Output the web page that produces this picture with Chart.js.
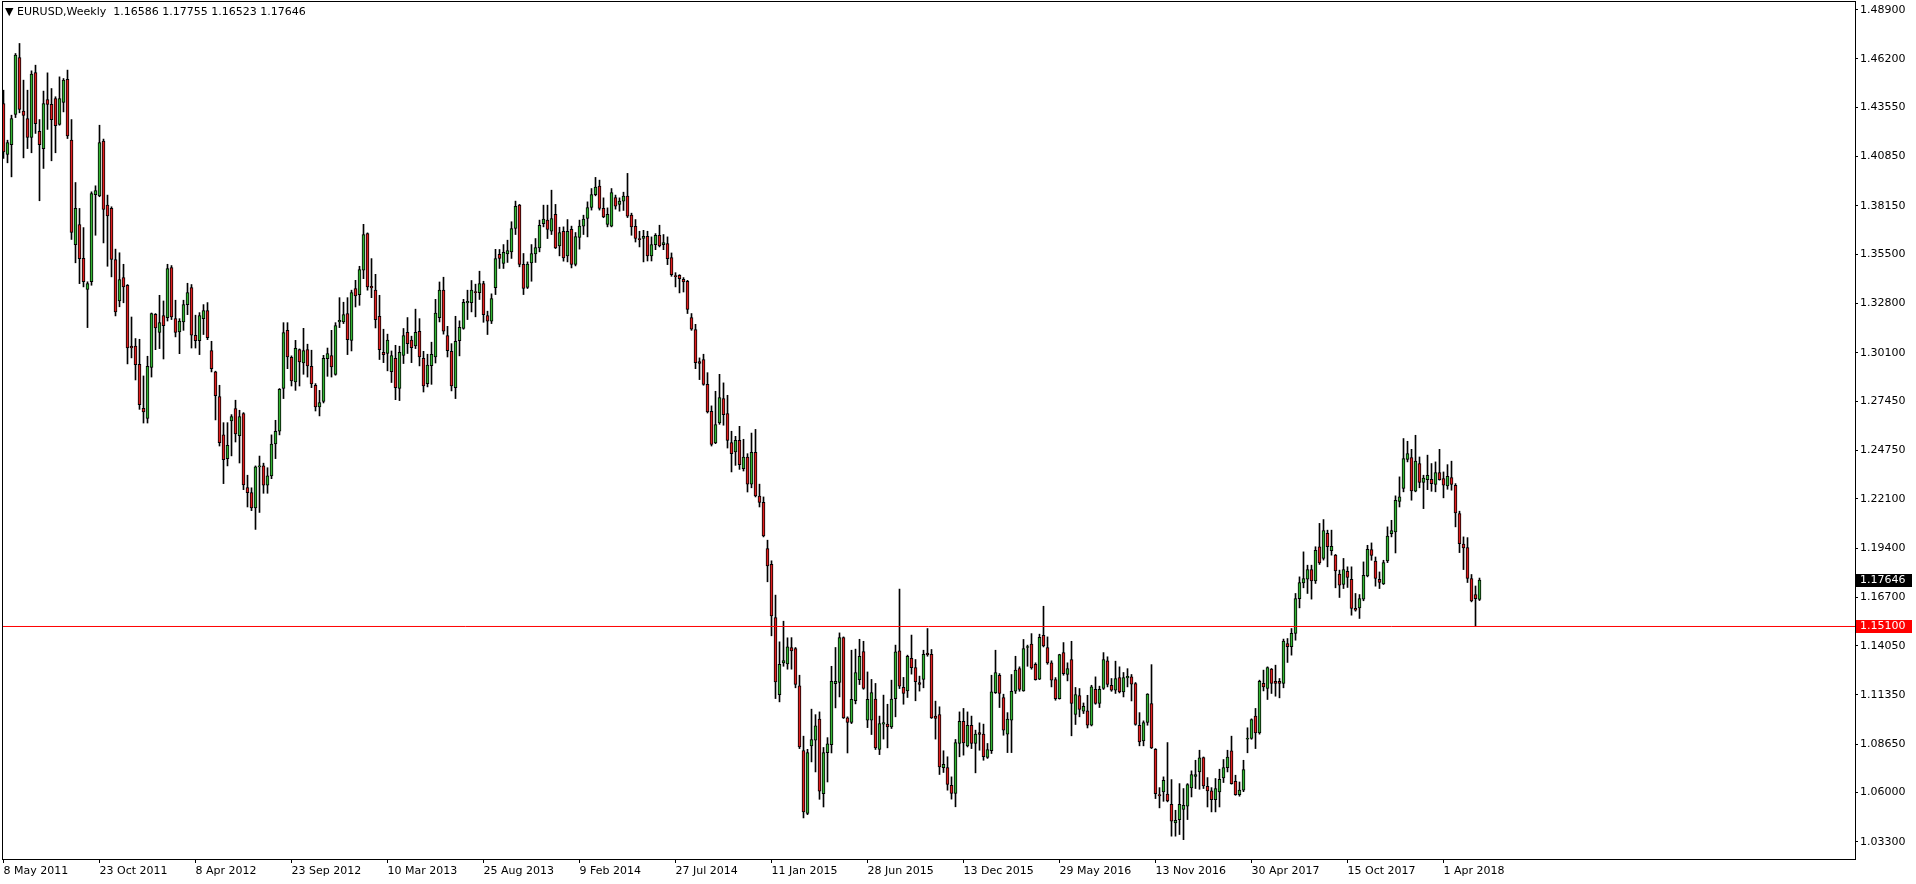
<!DOCTYPE html>
<html>
<head>
<meta charset="utf-8">
<title>EURUSD,Weekly</title>
<script src="https://cdn.jsdelivr.net/npm/chart.js@4.4.1/dist/chart.umd.min.js"></script>
<style>
  html, body { margin: 0; padding: 0; background: #fff; overflow: hidden; }
  #wrap { position: relative; width: 1916px; height: 884px; }
  #title {
    position: absolute; left: 5px; top: 5px;
    font: 11px "DejaVu Sans", Verdana, sans-serif; color: #000; white-space: pre;
  }
</style>
</head>
<body>
<div id="wrap">
  <canvas id="chart" width="1916" height="884"></canvas>
  <div id="title">▼ EURUSD,Weekly  1.16586 1.17755 1.16523 1.17646</div>
</div>
<script>
"use strict";

// Weekly bars, first bar = week of 8 May 2011, one bar per week.
const OPEN = [
  1.4376,1.4097,1.4151,1.4316,1.4628,1.4334,1.4294,1.4190,1.4546,1.4224,
  1.4129,1.4398,1.4372,1.4403,1.4261,1.4382,1.4508,1.4175,1.3603,1.3713,
  1.3527,1.3357,1.3399,1.3877,1.3870,1.4170,1.3819,1.3801,1.3521,1.3294,
  1.3422,1.3380,1.3046,1.3046,1.2947,1.2706,1.2650,1.2930,1.3221,1.3121,
  1.3214,1.3203,1.3477,1.3197,1.3124,1.3179,1.3274,1.3367,1.3106,1.3077,
  1.3197,1.3241,1.3022,1.2905,1.2770,1.2561,1.2430,1.2636,1.2704,1.2556,
  1.2677,1.2271,1.2244,1.2160,1.2385,1.2390,1.2285,1.2335,1.2510,1.2580,
  1.2814,1.3133,1.2985,1.2850,1.3027,1.2954,1.3027,1.2936,1.2832,1.2713,
  1.2744,1.2978,1.2994,1.2892,1.3179,1.3179,1.3225,1.3078,1.3362,1.3329,
  1.3462,1.3663,1.3374,1.3353,1.3210,1.3013,1.3006,1.2907,1.2980,1.2814,
  1.2995,1.3122,1.3079,1.3048,1.3128,1.2980,1.2841,1.2940,1.2987,1.3203,
  1.3353,1.3104,1.3018,1.2819,1.3077,1.3143,1.3283,1.3285,1.3342,1.3340,
  1.3389,1.3214,1.3183,1.3367,1.3549,1.3499,1.3552,1.3563,1.3691,1.3819,
  1.3494,1.3368,1.3503,1.3552,1.3585,1.3718,1.3737,1.3676,1.3768,1.3596,
  1.3676,1.3541,1.3686,1.3494,1.3642,1.3704,1.3746,1.3806,1.3877,1.3923,
  1.3801,1.3713,1.3704,1.3861,1.3823,1.3841,1.3868,1.3764,1.3703,1.3636,
  1.3636,1.3648,1.3541,1.3603,1.3654,1.3603,1.3608,1.3532,1.3433,1.3435,
  1.3413,1.3402,1.3203,1.3137,1.2962,1.2973,1.2837,1.2689,1.2516,1.2625,
  1.2759,1.2677,1.2518,1.2466,1.2530,1.2375,1.2439,1.2290,1.2465,1.2225,
  1.2190,1.1937,1.1850,1.1559,1.1137,1.1311,1.1305,1.1395,1.1389,1.1185,
  1.0830,1.0485,1.0856,1.0887,1.1002,1.0594,1.0819,1.0863,1.1197,1.1203,
  1.1449,1.1009,1.0984,1.1104,1.1219,1.1373,1.0996,1.0997,1.1112,1.0836,
  1.0975,1.0975,1.0960,1.1115,1.1377,1.1176,1.1157,1.1335,1.1285,1.1203,
  1.1220,1.1364,1.1358,1.1019,1.1028,1.0737,1.0737,1.0640,1.0595,1.0869,
  1.0991,1.0856,1.0969,1.0869,1.0929,1.0920,1.0792,1.0829,1.1148,1.1243,
  1.1121,1.0920,1.0996,1.1155,1.1280,1.1157,1.1395,1.1413,1.1302,1.1221,
  1.1462,1.1395,1.1311,1.1219,1.1115,1.1367,1.1247,1.1329,1.1028,1.1132,
  1.1046,1.1048,1.0969,1.1165,1.1088,1.1170,1.1322,1.1188,1.1161,1.1230,
  1.1152,1.1228,1.1234,1.1197,1.0969,1.0883,1.0984,1.1088,1.0837,1.0589,
  1.0603,1.0591,1.0536,1.0434,1.0452,1.0508,1.0525,1.0625,1.0689,1.0713,
  1.0792,1.0634,1.0609,1.0561,1.0603,1.0680,1.0737,1.0828,1.0662,1.0589,
  1.0613,1.0892,1.0896,1.1019,1.0927,1.1198,1.1170,1.1276,1.1210,1.1210,
  1.1198,1.1417,1.1399,1.1472,1.1663,1.1749,1.1769,1.1822,1.1760,1.1947,
  1.1883,1.2020,1.1925,1.1901,1.1797,1.1740,1.1813,1.1769,1.1609,1.1612,
  1.1660,1.1787,1.1932,1.1868,1.1769,1.1743,1.1869,1.2019,1.2028,1.2196,
  1.2266,1.2425,1.2436,1.2251,1.2403,1.2299,1.2315,1.2317,1.2288,1.2354,
  1.2321,1.2280,1.2326,1.2284,1.2129,1.1961,1.1942,1.1773,1.1685,1.16586
];
const HIGH = [
  1.4449,1.4175,1.4312,1.4650,1.4705,1.4504,1.4449,1.4555,1.4586,1.4288,
  1.4444,1.4544,1.4458,1.4413,1.4522,1.4513,1.4559,1.4288,1.3943,1.3801,
  1.3696,1.3399,1.3892,1.3925,1.4257,1.4181,1.3874,1.3810,1.3578,1.3558,
  1.3495,1.3384,1.3206,1.3088,1.3084,1.2883,1.2991,1.3228,1.3225,1.3325,
  1.3294,1.3495,1.3488,1.3298,1.3197,1.3298,1.3391,1.3384,1.3216,1.3230,
  1.3274,1.3285,1.3073,1.2909,1.2832,1.2627,1.2627,1.2671,1.2750,1.2695,
  1.2682,1.2339,1.2270,1.2390,1.2444,1.2405,1.2380,1.2560,1.2640,1.2814,
  1.3175,1.3175,1.2993,1.3078,1.3031,1.3144,1.3057,1.3024,1.2841,1.2804,
  1.2996,1.3036,1.3133,1.3175,1.3312,1.3287,1.3312,1.3353,1.3407,1.3484,
  1.3714,1.3667,1.3526,1.3440,1.3325,1.3139,1.3112,1.3020,1.3051,1.3046,
  1.3143,1.3203,1.3101,1.3249,1.3197,1.3018,1.3002,1.3068,1.3303,1.3398,
  1.3424,1.3155,1.3060,1.3210,1.3185,1.3303,1.3353,1.3406,1.3386,1.3457,
  1.3402,1.3238,1.3333,1.3577,1.3576,1.3603,1.3627,1.3728,1.3841,1.3823,
  1.3554,1.3508,1.3603,1.3636,1.3737,1.3819,1.3819,1.3901,1.3823,1.3698,
  1.3700,1.3740,1.3704,1.3669,1.3737,1.3764,1.3837,1.3910,1.3971,1.3956,
  1.3859,1.3804,1.3910,1.3874,1.3859,1.3890,1.3993,1.3775,1.3740,1.3676,
  1.3681,1.3676,1.3645,1.3663,1.3709,1.3658,1.3645,1.3557,1.3449,1.3438,
  1.3422,1.3407,1.3225,1.3166,1.2982,1.3002,1.2901,1.2719,1.2799,1.2892,
  1.2845,1.2777,1.2580,1.2552,1.2607,1.2536,1.2457,1.2570,1.2590,1.2290,
  1.2220,1.1983,1.1870,1.1682,1.1426,1.1539,1.1448,1.1449,1.1395,1.1243,
  1.0909,1.0837,1.1057,1.1027,1.1042,1.0847,1.0901,1.1292,1.1395,1.1475,
  1.1453,1.1015,1.1380,1.1386,1.1440,1.1429,1.1261,1.1220,1.1198,1.1019,
  1.1134,1.1084,1.1216,1.1408,1.1715,1.1231,1.1353,1.1463,1.1329,1.1238,
  1.1380,1.1499,1.1384,1.1101,1.1070,1.0829,1.0796,1.0686,1.0891,1.1042,
  1.1061,1.1042,1.1019,1.0942,1.0982,1.0975,1.0869,1.1243,1.1380,1.1252,
  1.1139,1.1038,1.1247,1.1347,1.1289,1.1439,1.1408,1.1471,1.1311,1.1468,
  1.1621,1.1453,1.1322,1.1230,1.1358,1.1422,1.1311,1.1429,1.1176,1.1170,
  1.1091,1.1133,1.1188,1.1234,1.1183,1.1367,1.1344,1.1225,1.1320,1.1289,
  1.1258,1.1279,1.1247,1.1203,1.1038,1.0993,1.1142,1.1301,1.0841,1.0627,
  1.0686,1.0874,1.0671,1.0503,1.0649,1.0622,1.0649,1.0719,1.0777,1.0832,
  1.0795,1.0682,1.0627,1.0677,1.0728,1.0781,1.0832,1.0909,1.0695,1.0658,
  1.0777,1.0955,1.1004,1.1061,1.1216,1.1271,1.1289,1.1280,1.1298,1.1225,
  1.1441,1.1444,1.1499,1.1691,1.1782,1.1919,1.1846,1.1846,1.1947,1.2075,
  1.2096,1.2038,1.2038,1.1905,1.1819,1.1883,1.1837,1.1837,1.1691,1.1685,
  1.1864,1.1955,1.1968,1.1891,1.1809,1.1873,1.2056,1.2092,1.2226,1.2330,
  1.2540,1.2525,1.2481,1.2558,1.2439,1.2339,1.2449,1.2403,1.2412,1.2481,
  1.2357,1.2397,1.2416,1.2293,1.2142,1.2001,1.1997,1.1795,1.1732,1.17755
];
const LOW = [
  1.4075,1.4051,1.3974,1.4299,1.4325,1.4078,1.4129,1.4106,1.4212,1.3843,
  1.4020,1.4234,1.4062,1.4106,1.4257,1.4330,1.4184,1.3631,1.3503,1.3389,
  1.3371,1.3148,1.3380,1.3654,1.3865,1.3612,1.3484,1.3426,1.3212,1.3262,
  1.3284,1.2949,1.2982,1.2861,1.2700,1.2625,1.2625,1.2877,1.3027,1.3033,
  1.2976,1.3184,1.3192,1.3097,1.3005,1.3133,1.3219,1.3036,1.3036,1.3000,
  1.3110,1.3082,1.2905,1.2642,1.2499,1.2293,1.2390,1.2445,1.2521,1.2406,
  1.2260,1.2165,1.2145,1.2042,1.2135,1.2240,1.2240,1.2320,1.2430,1.2560,
  1.2759,1.2923,1.2828,1.2804,1.2828,1.2892,1.2877,1.2819,1.2691,1.2664,
  1.2735,1.2881,1.2877,1.2887,1.3148,1.3170,1.3000,1.3020,1.3261,1.3270,
  1.3416,1.3353,1.3312,1.3146,1.2973,1.2956,1.2911,1.2847,1.2753,1.2748,
  1.2951,1.3006,1.2956,1.3033,1.2938,1.2795,1.2823,1.2837,1.2954,1.3179,
  1.3112,1.2987,1.2801,1.2759,1.2993,1.3139,1.3192,1.3234,1.3207,1.3302,
  1.3177,1.3110,1.3170,1.3329,1.3472,1.3472,1.3505,1.3527,1.3658,1.3481,
  1.3329,1.3362,1.3402,1.3505,1.3563,1.3700,1.3636,1.3658,1.3581,1.3541,
  1.3512,1.3508,1.3475,1.3486,1.3578,1.3658,1.3645,1.3792,1.3870,1.3792,
  1.3750,1.3700,1.3700,1.3797,1.3786,1.3790,1.3751,1.3654,1.3617,1.3590,
  1.3508,1.3513,1.3513,1.3575,1.3590,1.3575,1.3493,1.3429,1.3371,1.3338,
  1.3343,1.3225,1.3133,1.2923,1.2863,1.2832,1.2680,1.2499,1.2512,1.2618,
  1.2613,1.2488,1.2357,1.2393,1.2371,1.2362,1.2247,1.2270,1.2220,1.2165,
  1.2001,1.1755,1.1459,1.1115,1.1097,1.1292,1.1276,1.1276,1.1174,1.0841,
  1.0461,1.0479,1.0768,1.0713,1.0563,1.0521,1.0658,1.0817,1.1064,1.1124,
  1.1006,1.0817,1.0978,1.1086,1.1192,1.1166,1.0956,1.0918,1.0836,1.0808,
  1.0893,1.0845,1.0951,1.1015,1.1170,1.1084,1.1121,1.1249,1.1103,1.1156,
  1.1174,1.1347,1.1006,1.0893,1.0699,1.0710,1.0613,1.0564,1.0522,1.0796,
  1.0805,1.0850,1.0841,1.0708,1.0832,1.0777,1.0787,1.0814,1.1143,1.1066,
  1.0914,1.0819,1.0819,1.1143,1.1155,1.1155,1.1292,1.1276,1.1216,1.1219,
  1.1398,1.1303,1.1179,1.1106,1.1112,1.1243,1.1212,1.0911,1.0973,1.1015,
  1.1033,1.0954,1.0965,1.1084,1.1066,1.1165,1.1179,1.1155,1.1143,1.1146,
  1.1124,1.1179,1.1102,1.0969,1.0856,1.0856,1.0969,1.0841,1.0567,1.0516,
  1.0552,1.0549,1.0361,1.0361,1.0370,1.0342,1.0452,1.0576,1.0622,1.0618,
  1.0622,1.0521,1.0494,1.0494,1.0521,1.0655,1.0713,1.0646,1.0585,1.0580,
  1.0605,1.0818,1.0892,1.0841,1.0920,1.1157,1.1110,1.1143,1.1128,1.1119,
  1.1174,1.1313,1.1353,1.1435,1.1612,1.1722,1.1691,1.1660,1.1746,1.1850,
  1.1874,1.1837,1.1901,1.1722,1.1669,1.1718,1.1724,1.1572,1.1594,1.1554,
  1.1651,1.1782,1.1873,1.1731,1.1718,1.1740,1.1860,1.2001,1.1913,1.2165,
  1.2248,1.2412,1.2202,1.2248,1.2270,1.2156,1.2260,1.2251,1.2248,1.2312,
  1.2215,1.2262,1.2257,1.2056,1.1915,1.1822,1.1751,1.1645,1.1510,1.16523
];
const CLOSE = [
  1.4111,1.4162,1.4294,1.4641,1.4343,1.4310,1.4190,1.4537,1.4266,1.4151,
  1.4376,1.4371,1.4288,1.4254,1.4403,1.4504,1.4199,1.3669,1.3801,1.3525,
  1.3399,1.3389,1.3883,1.3899,1.4162,1.3795,1.3760,1.3521,1.3234,1.3411,
  1.3371,1.3036,1.3036,1.2945,1.2726,1.2686,1.2936,1.3225,1.3146,1.3175,
  1.3159,1.3471,1.3206,1.3121,1.3183,1.3274,1.3340,1.3106,1.3077,1.3214,
  1.3241,1.3093,1.2923,1.2775,1.2518,1.2424,1.2503,1.2660,1.2565,1.2660,
  1.2286,1.2244,1.2160,1.2385,1.2390,1.2285,1.2335,1.2510,1.2580,1.2810,
  1.3120,1.2987,1.2856,1.3035,1.2960,1.3022,1.2938,1.2839,1.2713,1.2737,
  1.2980,1.3005,1.2932,1.3159,1.3188,1.3219,1.3082,1.3340,1.3321,1.3466,
  1.3658,1.3371,1.3365,1.3192,1.3027,1.3000,1.3079,1.2995,1.2819,1.3013,
  1.3104,1.3060,1.3038,1.3122,1.2987,1.2828,1.2942,1.3002,1.3228,1.3353,
  1.3128,1.3022,1.2828,1.3073,1.3150,1.3287,1.3292,1.3353,1.3340,1.3389,
  1.3219,1.3183,1.3307,1.3526,1.3527,1.3560,1.3570,1.3691,1.3813,1.3494,
  1.3362,1.3496,1.3554,1.3587,1.3709,1.3742,1.3686,1.3746,1.3585,1.3669,
  1.3530,1.3676,1.3494,1.3647,1.3704,1.3742,1.3806,1.3877,1.3918,1.3801,
  1.3755,1.3768,1.3888,1.3813,1.3841,1.3868,1.3758,1.3700,1.3636,1.3630,
  1.3648,1.3541,1.3603,1.3654,1.3596,1.3614,1.3526,1.3438,1.3427,1.3416,
  1.3398,1.3247,1.3139,1.2956,1.2951,1.2837,1.2686,1.2508,1.2616,1.2764,
  1.2671,1.2530,1.2457,1.2530,1.2397,1.2439,1.2290,1.2465,1.2225,1.2190,
  1.2007,1.1842,1.1568,1.1206,1.1302,1.1323,1.1398,1.1376,1.1192,1.0850,
  1.0494,1.0819,1.0890,1.0965,1.0607,1.0819,1.0867,1.1210,1.1210,1.1449,
  1.1009,1.0984,1.1111,1.1258,1.1347,1.1170,1.1111,1.1148,1.0845,1.0978,
  1.0984,1.0960,1.1112,1.1371,1.1183,1.1143,1.1347,1.1284,1.1207,1.1192,
  1.1358,1.1355,1.1009,1.1006,1.0741,1.0755,1.0644,1.0595,1.0874,1.0991,
  1.0872,1.0969,1.0869,1.0920,1.0918,1.0796,1.0836,1.1152,1.1258,1.1143,
  1.0942,1.1002,1.1155,1.1271,1.1165,1.1389,1.1398,1.1283,1.1219,1.1450,
  1.1404,1.1311,1.1216,1.1115,1.1356,1.1252,1.1280,1.1088,1.1137,1.1055,
  1.1073,1.0969,1.1179,1.1088,1.1165,1.1329,1.1192,1.1161,1.1225,1.1152,
  1.1230,1.1237,1.1194,1.0973,1.0878,1.0984,1.1139,1.0845,1.0594,1.0582,
  1.0667,1.0554,1.0443,1.0448,1.0536,1.0530,1.0644,1.0698,1.0698,1.0790,
  1.0636,1.0609,1.0561,1.0622,1.0673,1.0737,1.0795,1.0649,1.0589,1.0613,
  1.0726,1.0896,1.1000,1.0927,1.1210,1.1179,1.1285,1.1198,1.1198,1.1198,
  1.1430,1.1399,1.1472,1.1663,1.1751,1.1773,1.1822,1.1760,1.1928,1.1859,
  1.2036,1.1947,1.1950,1.1815,1.1737,1.1822,1.1779,1.1609,1.1599,1.1663,
  1.1791,1.1933,1.1900,1.1773,1.1751,1.1860,1.2005,1.2036,1.2202,1.2220,
  1.2430,1.2458,1.2253,1.2416,1.2299,1.2324,1.2339,1.2293,1.2354,1.2315,
  1.2284,1.2333,1.2288,1.2133,1.1964,1.1941,1.1773,1.1650,1.1663,1.17646
];

// date labels on the time axis, every 24 bars
const DATE_LABELS = ["8 May 2011", "23 Oct 2011", "8 Apr 2012", "23 Sep 2012", "10 Mar 2013",
  "25 Aug 2013", "9 Feb 2014", "27 Jul 2014", "11 Jan 2015", "28 Jun 2015", "13 Dec 2015",
  "29 May 2016", "13 Nov 2016", "30 Apr 2017", "15 Oct 2017", "1 Apr 2018"];
const DATE_BARS = [0, 24, 48, 72, 96, 120, 144, 168, 192, 216, 240, 264, 288, 312, 336, 360];

const PRICE_TICKS = [1.489, 1.462, 1.4355, 1.4085, 1.3815, 1.355, 1.328, 1.301, 1.2745,
  1.2475, 1.221, 1.194, 1.167, 1.1405, 1.1135, 1.0865, 1.06, 1.033];

const LEVEL = 1.151;        // horizontal line
const LAST = 1.17646;       // last close

const Y_MIN = 1.02359, Y_MAX = 1.49377;
const X_MIN = -0.375, X_MAX = 462.875;

const BULL = "#32b432";
const BEAR = "#e01e1e";

const wicks = HIGH.map((h, i) => ({ x: i, y: [LOW[i], h] }));
const bodies = OPEN.map((o, i) => ({ x: i, y: [o, CLOSE[i]] }));
const bodyColors = OPEN.map((o, i) => (CLOSE[i] >= o ? BULL : BEAR));

const FONT = { family: "'DejaVu Sans', Verdana, sans-serif", size: 11 };

// frame around the plot and the two price boxes on the axis
const framePlugin = {
  id: "frame",
  afterDraw(chart) {
    const { ctx, chartArea: a, scales } = chart;
    ctx.save();
    ctx.strokeStyle = "#000";
    ctx.lineWidth = 1;
    ctx.strokeRect(a.left + 0.5, a.top + 0.5, a.right - a.left, a.bottom - a.top);

    const boxes = [
      { v: LAST, bg: "#000", txt: LAST.toFixed(5) },
      { v: LEVEL, bg: "#ff0000", txt: LEVEL.toFixed(5) },
    ];
    ctx.font = `${FONT.size}px ${FONT.family}`;
    ctx.textBaseline = "middle";
    for (const b of boxes) {
      const y = Math.round(scales.y.getPixelForValue(b.v));
      ctx.fillStyle = b.bg;
      ctx.fillRect(a.right + 1, y - 6, 56, 13);
      ctx.fillStyle = "#fff";
      ctx.fillText(b.txt, a.right + 5, y + 0.5);
    }
    ctx.restore();
  },
};

new Chart(document.getElementById("chart"), {
  type: "bar",
  data: {
    datasets: [
      {
        type: "line", data: [{ x: X_MIN, y: LEVEL }, { x: X_MAX, y: LEVEL }],
        borderColor: "#ff0000", borderWidth: 1, pointRadius: 0, order: 0,
      },
      {
        data: bodies, backgroundColor: bodyColors, borderColor: "#000", borderWidth: 1,
        borderSkipped: false, barThickness: 3, minBarLength: 1, grouped: false, order: 1,
      },
      {
        data: wicks, backgroundColor: "#000", barThickness: 1, grouped: false, order: 2,
      },
    ],
  },
  options: {
    responsive: false,
    animation: false,
    events: [],
    layout: { padding: { left: 2, top: 1, right: 0, bottom: 0 } },
    plugins: { legend: { display: false }, tooltip: { enabled: false } },
    scales: {
      x: {
        type: "linear", min: X_MIN, max: X_MAX, offset: false,
        grid: { offset: false, drawOnChartArea: false, tickLength: 4, color: "#000" },
        border: { display: false },
        afterBuildTicks: (s) => { s.ticks = DATE_BARS.map((v) => ({ value: v })); },
        afterFit: (s) => { s.height = 25; s.paddingLeft = 0; s.paddingRight = 0; },
        ticks: {
          autoSkip: false, maxRotation: 0, align: "start", padding: 2, color: "#000", font: FONT,
          callback: (v) => DATE_LABELS[DATE_BARS.indexOf(v)] || "",
        },
      },
      y: {
        type: "linear", position: "right", min: Y_MIN, max: Y_MAX,
        grid: { drawOnChartArea: false, tickLength: 3, color: "#000" },
        border: { display: false },
        afterBuildTicks: (s) => { s.ticks = PRICE_TICKS.map((v) => ({ value: v })); },
        afterFit: (s) => { s.width = 61; s.paddingTop = 0; s.paddingBottom = 0; },
        ticks: { padding: 2, color: "#000", font: FONT, callback: (v) => v.toFixed(5) },
      },
    },
  },
  plugins: [framePlugin],
});
</script>
</body>
</html>
